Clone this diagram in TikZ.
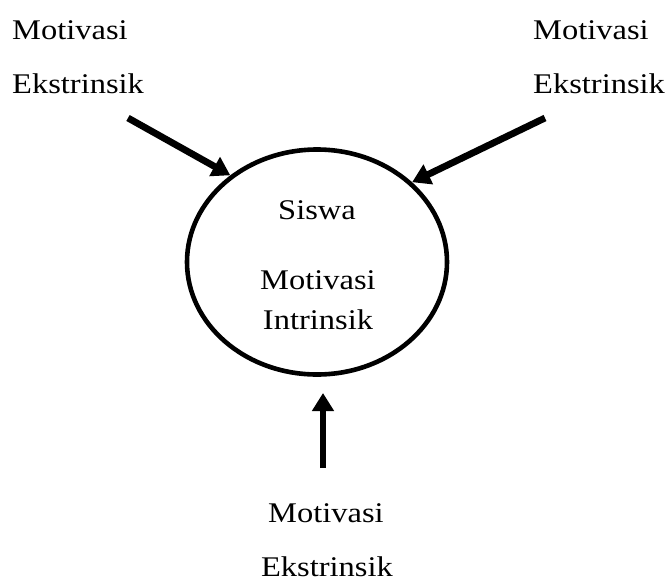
\documentclass[tikz,border=0pt]{standalone}
\usepackage{fontspec}
\setmainfont{Liberation Serif}[FakeStretch=1.14]
\usetikzlibrary{arrows.meta,shapes.geometric}
\begin{document}
\begin{tikzpicture}[x=1pt,y=-1pt,
  lbl/.style={inner sep=0pt,font=\fontsize{28.5}{34}\selectfont},
  arr/.style={line width=6.8pt,-{Triangle[width=21pt,length=18pt]}},
  circ/.style={ellipse,draw,line width=4.6pt,minimum width=260pt,minimum height=225pt,inner sep=0pt}]
\useasboundingbox (0,0) rectangle (666,581);
\node[circ] (c) at (317,262) {};
% labels
\node[lbl,anchor=base west] (tl1) at (12,39) {Motivasi};
\node[lbl,anchor=base west] (tl2) at (12,93) {Ekstrinsik};
\node[lbl,anchor=base west] (tr1) at (533,39) {Motivasi};
\node[lbl,anchor=base west] (tr2) at (533,93) {Ekstrinsik};
\node[lbl,anchor=base] (b1) at (326,522) {Motivasi};
\node[lbl,anchor=base] (b2) at (327,576) {Ekstrinsik};
\node[lbl,anchor=base] (s1) at (317,219) {Siswa};
\node[lbl,anchor=base] (s2) at (318,289) {Motivasi};
\node[lbl,anchor=base] (s3) at (318,329) {Intrinsik};
% arrows
\coordinate (ta) at (128,118);
\coordinate (tb) at (545,118);
\coordinate (tc) at (323,468);
\coordinate (hc) at (323,393);
\draw[arr] (ta) -- (c.135);
\draw[arr] (tb) -- (c.40);
\draw[arr] (tc) -- (hc);
\end{tikzpicture}
\end{document}
